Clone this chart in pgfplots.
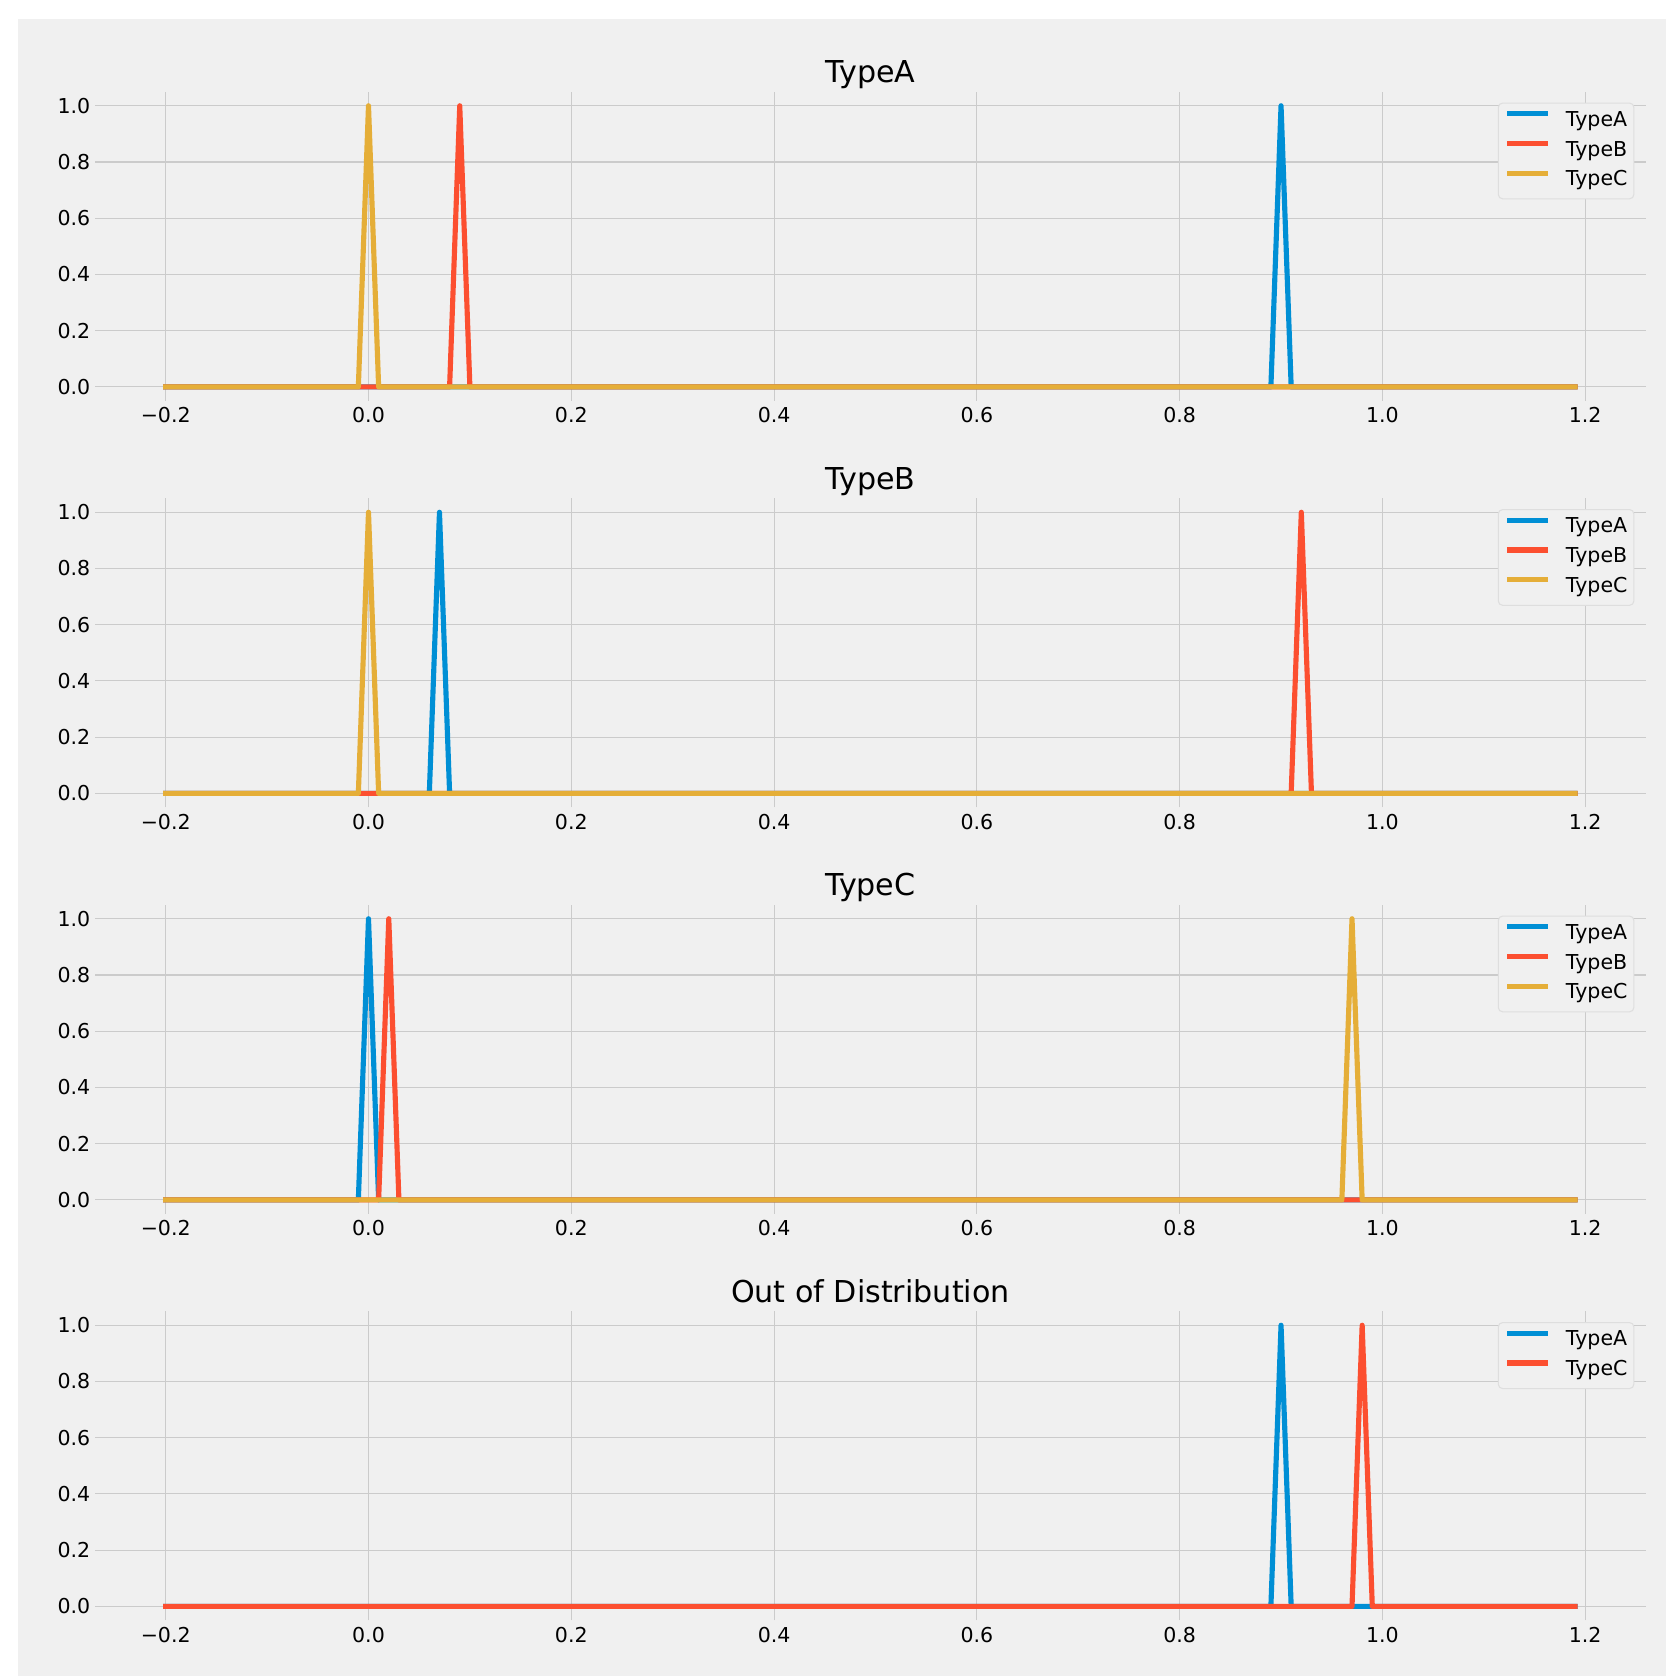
\documentclass[border=0pt]{standalone}
\usepackage{fontspec}
\setmainfont{DejaVu Sans}
\usepackage{pgfplots}
\pgfplotsset{compat=1.18}
\definecolor{cA}{HTML}{008FD5}
\definecolor{cB}{HTML}{FC4F30}
\definecolor{cC}{HTML}{E5AE38}
\definecolor{bg}{HTML}{F0F0F0}
\definecolor{gridc}{HTML}{CBCBCB}
\definecolor{legedge}{HTML}{DEDEDE}
\pgfplotsset{
 fte/.style={
  scale only axis, width=725.2pt, height=144.65pt,
  anchor=north west,
  xmin=-0.2695, xmax=1.2595, ymin=-0.05, ymax=1.05,
  axis line style={draw=none}, tick style={draw=none},
  xtick={-0.2,0,0.2,0.4,0.6,0.8,1.0,1.2},
  xticklabels={−0.2,0.0,0.2,0.4,0.6,0.8,1.0,1.2},
  ytick={0,0.2,0.4,0.6,0.8,1.0},
  yticklabels={0.0,0.2,0.4,0.6,0.8,1.0},
  grid=major, major grid style={gridc, line width=0.5pt},
  ticklabel style={font=\fontsize{9.6}{11}\selectfont, text=black},
  xticklabel style={yshift=0.5pt},
  yticklabel style={xshift=1.2pt},
  every axis title shift=0pt,
  title style={font=\fontsize{14.1}{17}\selectfont, at={(0.5,1)}, anchor=base, yshift=4.2pt},
  legend style={at={(0.9928,0.9649)}, anchor=north east,
     font=\fontsize{9.6}{11}\selectfont, draw=legedge, line width=0.5pt, fill=bg,
     rounded corners=2pt, inner xsep=3pt, inner ysep=3.8pt,
     row sep=4.6pt, column sep=7.3pt,
     cells={anchor=base west},
     nodes={inner sep=0pt, text height=7pt, text depth=2.3pt}},
  legend cell align=left,
  legend image code/.code={\draw[#1, line cap=butt, line width=2.35pt, sharp corners] (0pt,3.5pt) -- (19pt,3.5pt);},
  every axis plot/.append style={line width=2.4pt, line join=round, line cap=rect},
 }
}
\begin{document}
\begin{tikzpicture}
\useasboundingbox (0,0) rectangle (779.5pt,-784pt);
\fill[white] (0,0) rectangle (779.5pt,-784pt);
\fill[bg] (8.4pt,-9pt) rectangle (779.5pt,-784pt);

\begin{axis}[fte, at={(44.55pt,-42.9pt)}, title={TypeA}]
\addplot[cA] coordinates {(-0.2,0) (0.89,0) (0.9,1) (0.91,0) (1.19,0)};
\addplot[cB] coordinates {(-0.2,0) (0.08,0) (0.09,1) (0.10,0) (1.19,0)};
\addplot[cC] coordinates {(-0.2,0) (-0.01,0) (0.0,1) (0.01,0) (1.19,0)};
\legend{TypeA,TypeB,TypeC}
\end{axis}

\begin{axis}[fte, at={(44.55pt,-233.05pt)}, title={TypeB}]
\addplot[cA] coordinates {(-0.2,0) (0.06,0) (0.07,1) (0.08,0) (1.19,0)};
\addplot[cB] coordinates {(-0.2,0) (0.91,0) (0.92,1) (0.93,0) (1.19,0)};
\addplot[cC] coordinates {(-0.2,0) (-0.01,0) (0.0,1) (0.01,0) (1.19,0)};
\legend{TypeA,TypeB,TypeC}
\end{axis}

\begin{axis}[fte, at={(44.55pt,-423.2pt)}, title={TypeC}]
\addplot[cA] coordinates {(-0.2,0) (-0.01,0) (0.0,1) (0.01,0) (1.19,0)};
\addplot[cB] coordinates {(-0.2,0) (0.01,0) (0.02,1) (0.03,0) (1.19,0)};
\addplot[cC] coordinates {(-0.2,0) (0.96,0) (0.97,1) (0.98,0) (1.19,0)};
\legend{TypeA,TypeB,TypeC}
\end{axis}

\begin{axis}[fte, at={(44.55pt,-613.35pt)}, title={Out of Distribution}]
\addplot[cA] coordinates {(-0.2,0) (0.89,0) (0.9,1) (0.91,0) (1.19,0)};
\addplot[cB] coordinates {(-0.2,0) (0.97,0) (0.98,1) (0.99,0) (1.19,0)};
\legend{TypeA,TypeC}
\end{axis}
\end{tikzpicture}
\end{document}
